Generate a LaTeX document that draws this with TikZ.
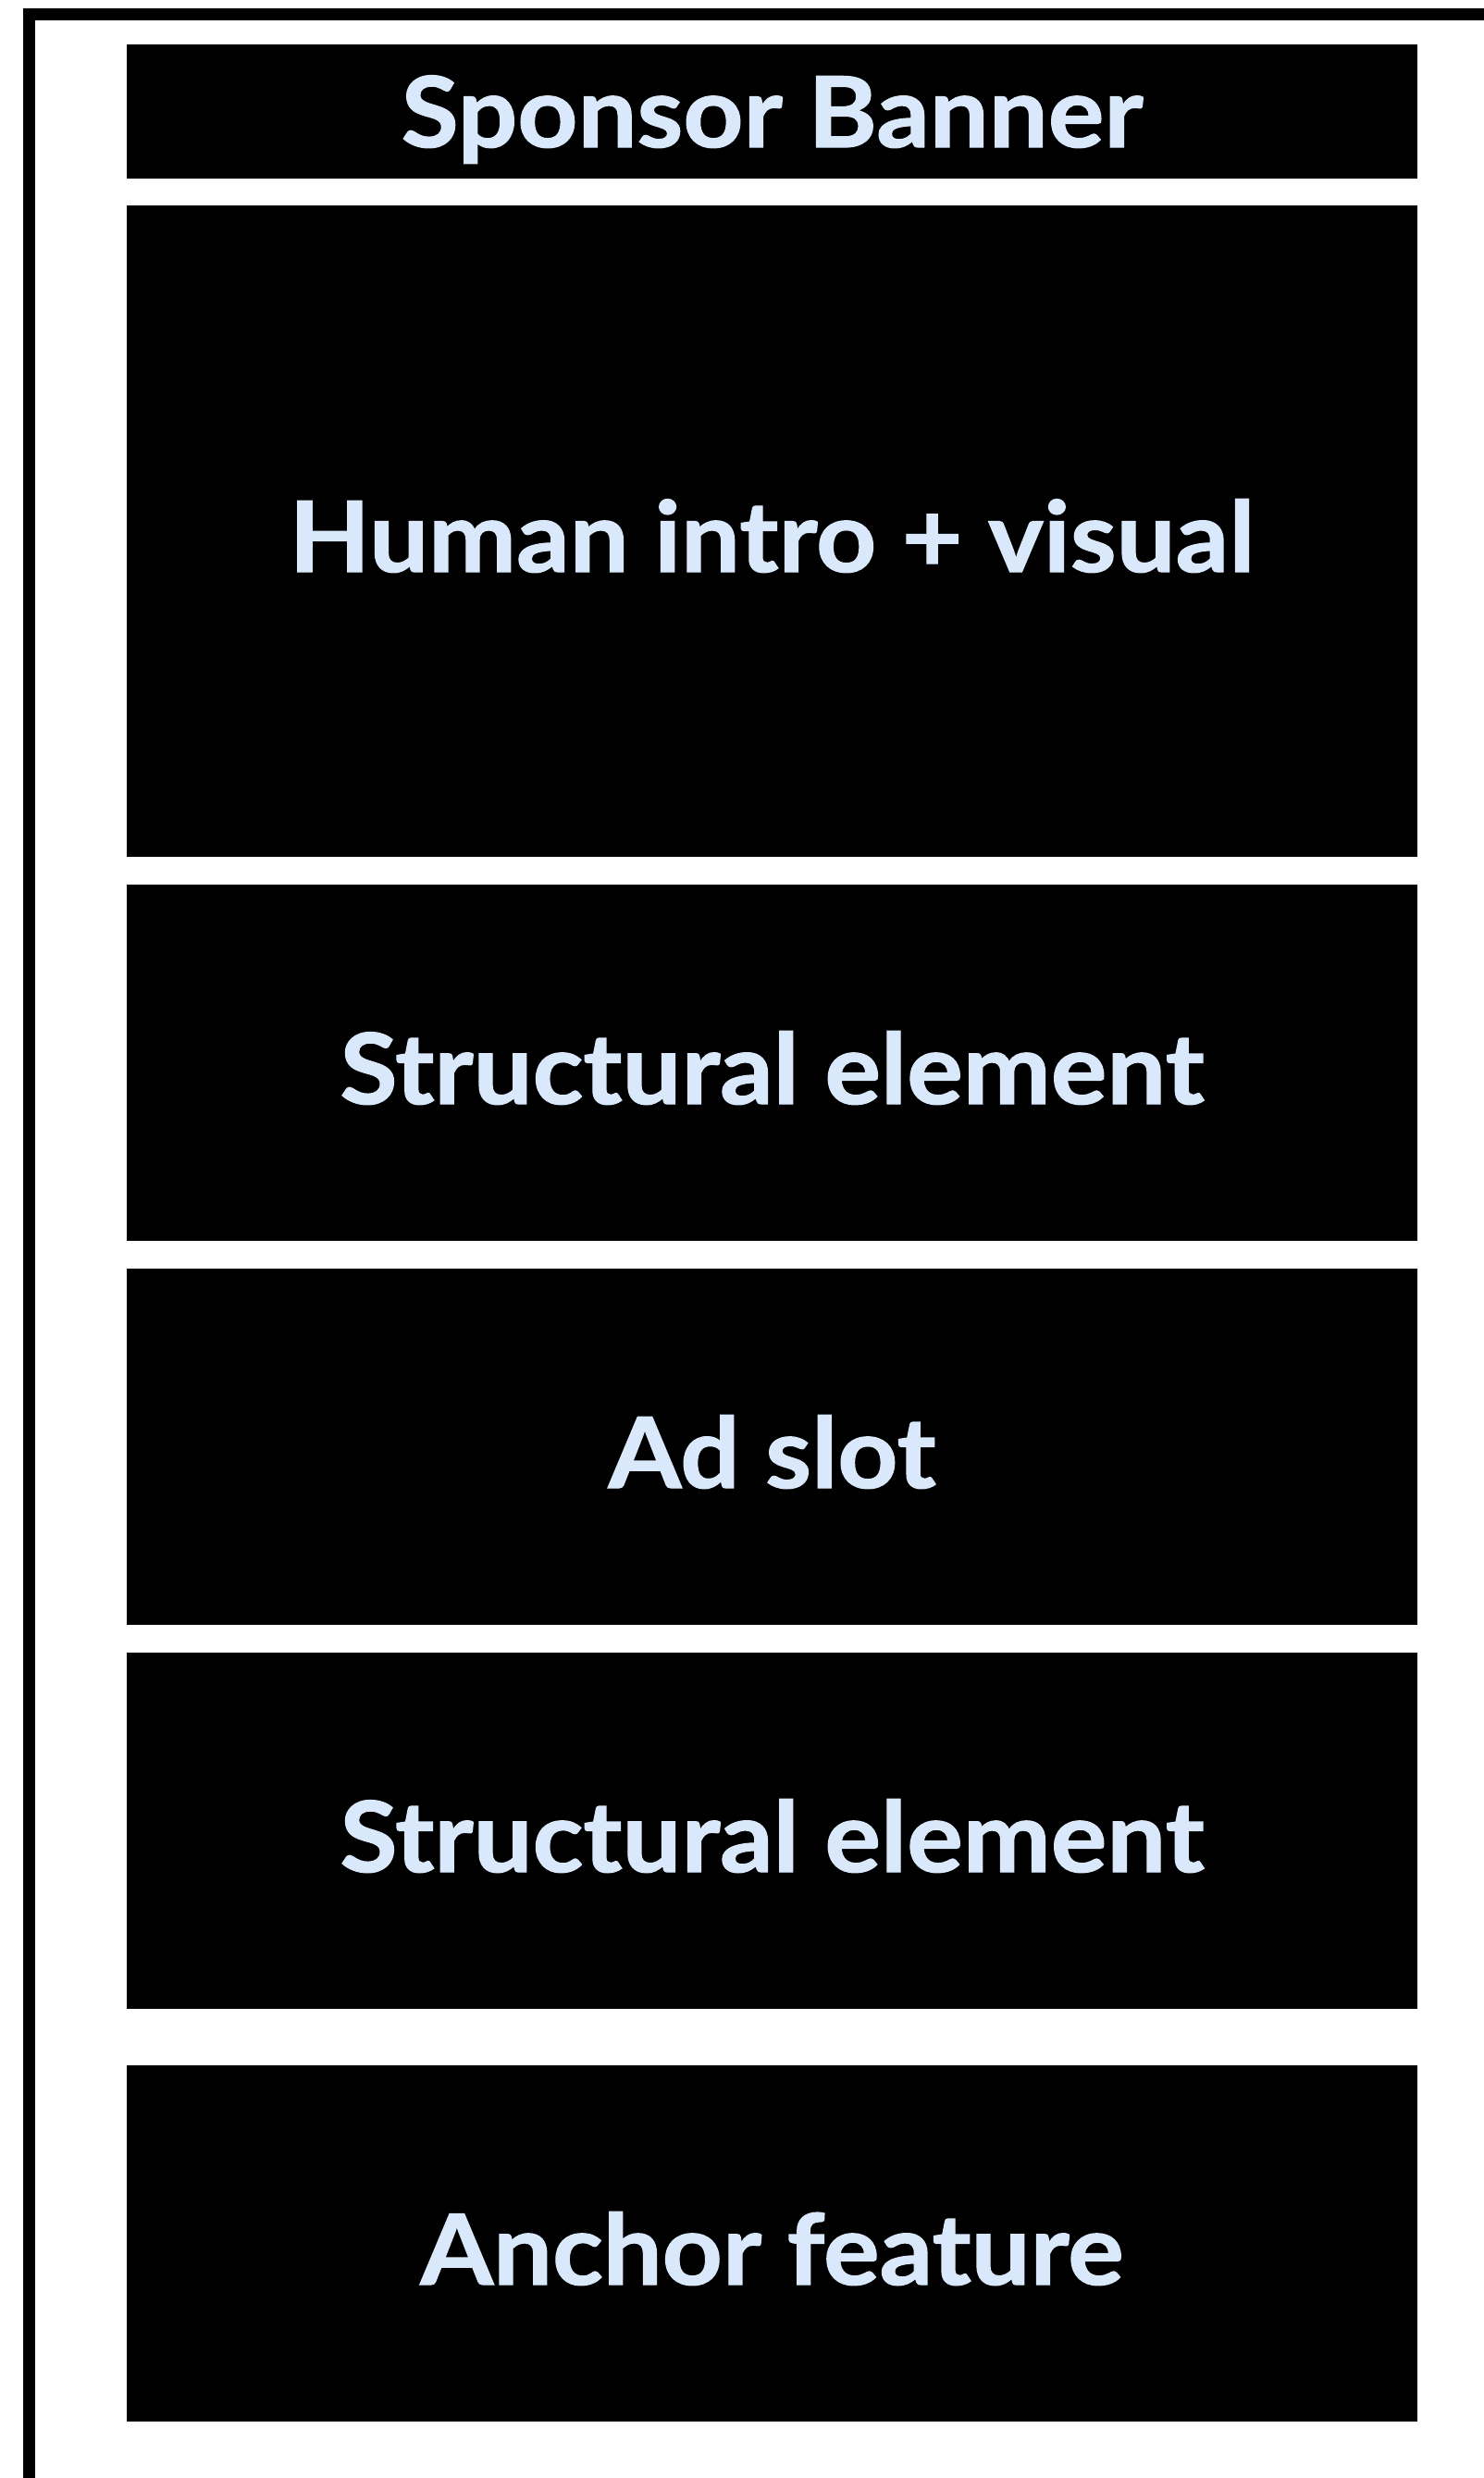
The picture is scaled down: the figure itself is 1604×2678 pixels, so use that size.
\documentclass[tikz,border=0pt]{standalone}
\usepackage{fontspec}
\setmainfont{Lato}[BoldFeatures={FakeStretch=1.07,FakeBold=1.2}]
\definecolor{lblue}{HTML}{DAE8FC}
\tikzset{
  blk/.style={fill=black, draw=none, minimum width=1395pt, outer sep=0pt, inner sep=0pt},
  lab/.style={text=lblue, font=\fontsize{106}{110}\selectfont\bfseries, anchor=base, inner sep=0pt},
  frame/.style={draw=black, line width=13pt}
}
\begin{document}
\begin{tikzpicture}[x=1pt,y=-1pt]
\useasboundingbox (0,0) rectangle (1604,2678);
\clip (0,0) rectangle (1604,2678);
\fill[white] (0,0) rectangle (1604,2678);
\draw[frame] (31.5,15.5) rectangle (1700,2800);
\node[blk, minimum height=145pt] (banner) at (834.5,120.5) {};
\node[blk, minimum height=704pt] (human) at (834.5,574) {};
\node[blk, minimum height=385pt] (struct1) at (834.5,1148.5) {};
\node[blk, minimum height=385pt] (ad) at (834.5,1563.5) {};
\node[blk, minimum height=385pt] (struct2) at (834.5,1978.5) {};
\node[blk, minimum height=385pt] (anchor) at (834.5,2424.5) {};
\node[lab] (bannert) at (834.5,159) {Sponsor Banner};
\node[lab] (humant) at (834.5,618) {Human intro + visual};
\node[lab] (struct1t) at (834.5,1193) {Structural element};
\node[lab] (adt) at (834.5,1608) {Ad slot};
\node[lab] (struct2t) at (834.5,2023) {Structural element};
\node[lab] (anchort) at (834.5,2469) {Anchor feature};
\end{tikzpicture}
\end{document}
